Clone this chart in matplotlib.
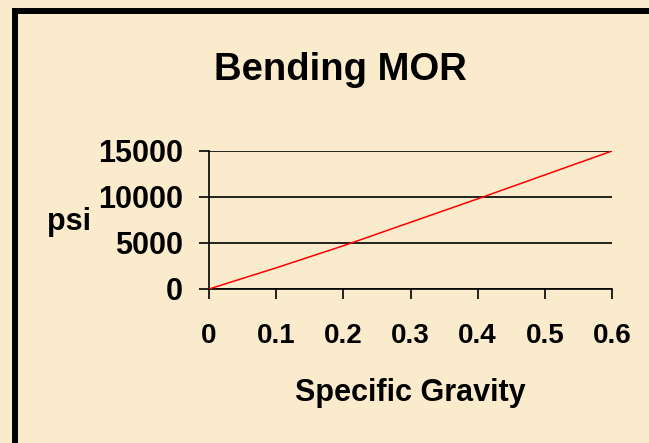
import matplotlib
matplotlib.use('Agg')
import matplotlib.pyplot as plt
from matplotlib.patches import Rectangle

# values
specific_gravity = [0, 0.1, 0.2, 0.3, 0.4, 0.5, 0.6]
mor_psi = [0, 2300, 4700, 7250, 9800, 12400, 15000]
x_ticks = [0, 0.1, 0.2, 0.3, 0.4, 0.5, 0.6]
x_tick_labels = ['0', '0.1', '0.2', '0.3', '0.4', '0.5', '0.6']
y_ticks = [0, 5000, 10000, 15000]
y_tick_labels = ['0', '5000', '10000', '15000']

plt.rcParams['font.family'] = ['Liberation Sans', 'DejaVu Sans']
plt.rcParams['font.weight'] = 'bold'

bg = '#FAEBCD'
fig = plt.figure(figsize=(6.49, 4.43), dpi=100, facecolor=bg)

# black frame round the slide, runs off the right and bottom edges
fig.patches.append(Rectangle((15 / 649, -0.2), 2, 0.975 + 0.2, transform=fig.transFigure,
                             fill=False, edgecolor='black', linewidth=4.3))

ax = fig.add_axes([209 / 649, 1 - 289 / 443, 403 / 649, 138 / 443])
ax.set_facecolor('none')

ax.plot(specific_gravity, mor_psi, color='#FF0000', linewidth=1.1, zorder=3)

ax.set_xlim(0, 0.6)
ax.set_ylim(0, 15000)
ax.set_xticks(x_ticks)
ax.set_xticklabels(x_tick_labels, fontsize=20, fontweight='bold')
ax.set_yticks(y_ticks)
ax.set_yticklabels(y_tick_labels, fontsize=22, fontweight='bold')

ax.grid(axis='y', color='black', linewidth=1.2)
ax.set_axisbelow(True)
for side in ['top', 'right']:
    ax.spines[side].set_visible(False)
for side in ['left', 'bottom']:
    ax.spines[side].set_linewidth(1.2)
ax.tick_params(axis='both', direction='out', length=7.2, width=1.2, color='black')
ax.tick_params(axis='y', pad=11.5)
ax.tick_params(axis='x', pad=17)

fig.text(340 / 649, 1 - 80 / 443, 'Bending MOR', fontsize=27.5, fontweight='bold',
         ha='center', va='baseline')
fig.text(47 / 649, 1 - 230 / 443, 'psi', fontsize=22, fontweight='bold',
         ha='left', va='baseline')
fig.text(410 / 649, 1 - 401 / 443, 'Specific Gravity', fontsize=22, fontweight='bold',
         ha='center', va='baseline')

fig.savefig('out.png', dpi=100, facecolor=bg)
